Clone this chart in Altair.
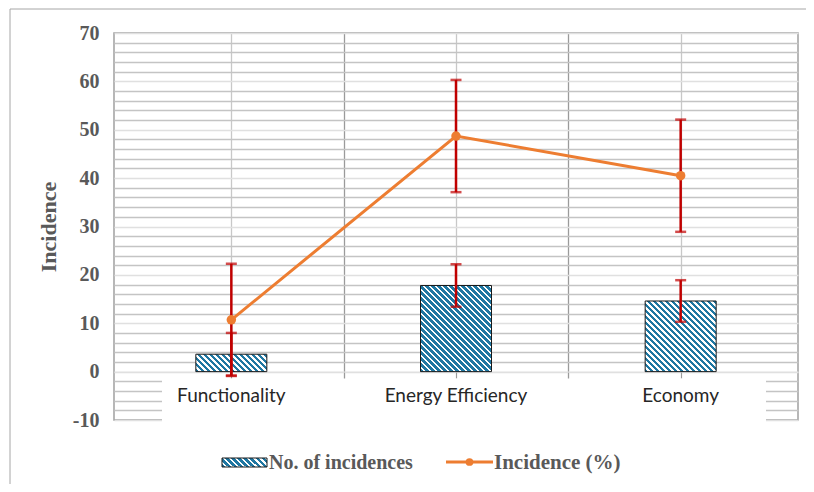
import altair as alt
import pandas as pd

# ---------------- data ----------------
categories = ["Functionality", "Energy Efficiency", "Economy"]
count_values = [3.6, 17.8, 14.6]        # No. of incidences (bars)
count_err = [4.4, 4.4, 4.3]
pct_values = [10.7, 48.7, 40.5]         # Incidence (%) (line)
pct_err = [11.6, 11.6, 11.6]
series_names = ["No. of incidences", "Incidence (%)"]
y_title = "Incidence"

# ---------------- layout / style ----------------
W, H = 684, 387
Y_MIN, Y_MAX = -10, 70
PX = H / (Y_MAX - Y_MIN)
BAR_W = 71
STRIPE = "#1F77A2"
ORANGE = "#ED7D31"
RED = "#C00000"
GRAY_TXT = "#595959"

x_pos = [i + 0.5 for i in range(len(categories))]


def stripe_fill(w, h, period=6.0, frac=0.55):
    """Diagonal ('\\') stripes emulated with a hard-stop linear gradient."""
    gx, gy = 1.0 / h, -1.0 / w
    t = (1.0 / h + 1.0 / w) / (gx * gx + gy * gy)
    x2, y2 = t * gx, 1 + t * gy
    n = (w + h) / period
    stops = []
    k = 0
    while k < n:
        a = min(k / n, 1.0)
        b = min((k + frac) / n, 1.0)
        c = min((k + 1) / n, 1.0)
        stops += [
            {"offset": a, "color": STRIPE},
            {"offset": b, "color": STRIPE},
            {"offset": b, "color": "#ffffff"},
            {"offset": c, "color": "#ffffff"},
        ]
        k += 1
    return {"gradient": "linear", "x1": 0, "y1": 1, "x2": x2, "y2": y2, "stops": stops}


df = pd.DataFrame({
    "cat": categories,
    "x": x_pos,
    "count": count_values,
    "c_lo": [v - e for v, e in zip(count_values, count_err)],
    "c_hi": [v + e for v, e in zip(count_values, count_err)],
    "pct": pct_values,
    "p_lo": [v - e for v, e in zip(pct_values, pct_err)],
    "p_hi": [v + e for v, e in zip(pct_values, pct_err)],
    "zero": [0] * len(categories),
})

x_axis = alt.Axis(
    values=[i * 0.5 for i in range(1, 2 * len(categories))],
    tickCount=100,
    labels=False,
    title=None,
    offset=-(0 - Y_MIN) * PX,
    grid=True,
    gridColor={"condition": {"test": "datum.value % 1 === 0", "value": "#9a9a9a"}, "value": "#c8c8c8"},
    gridWidth=1.3,
    domainColor="#e0e0e0",
    tickColor="#9a9a9a",
    tickSize=6,
)
x_scale = alt.Scale(domain=[0, len(categories)], nice=False, zero=False)
X = alt.X("x:Q", scale=x_scale, axis=x_axis)

y_axis = alt.Axis(
    values=list(range(Y_MIN, Y_MAX + 1, 2)),
    tickCount=100,
    labelExpr="datum.value % 10 === 0 ? '' + datum.value : ''",
    labelOverlap=False,
    labelBound=False,
    labelFlush=False,
    title=y_title,
    titleFont="Liberation Serif",
    titleFontSize=22,
    titleFontWeight="bold",
    titleColor=GRAY_TXT,
    titlePadding=12,
    labelFont="Liberation Serif",
    labelFontSize=20,
    labelFontWeight="bold",
    labelColor=GRAY_TXT,
    labelPadding=15,
    ticks=False,
    domain=False,
    grid=True,
    gridColor={"condition": {"test": "datum.value % 10 === 0", "value": "#e0e0e0"}, "value": "#c4c4c4"},
    gridWidth=1.4,
)
y_scale = alt.Scale(domain=[Y_MIN, Y_MAX], nice=False, zero=False)


def Y(field):
    return alt.Y(field, scale=y_scale, axis=y_axis)


base = alt.Chart(df)

# white box behind the category labels (hides the grid below zero, as in the original)
cover = base.transform_filter(alt.datum.x == x_pos[0]).mark_rect(fill="white").encode(
    x=alt.value(48), x2=alt.value(652),
    y=alt.datum(-1.4), y2=alt.datum(Y_MIN - 0.4),
)

cat_labels = base.mark_text(
    baseline="alphabetic", align="center", dy=30, font="Lato", fontSize=19, color="#262626"
).encode(x=X, y=Y("zero:Q"), text="cat:N")

bars = []
for cat, v in zip(categories, count_values):
    bars.append(
        base.transform_filter(alt.datum.cat == cat).mark_bar(
            size=BAR_W, orient="vertical", fill=stripe_fill(BAR_W, v * PX),
            stroke="#1a1a1a", strokeWidth=1,
        ).encode(x=X, y=Y("count:Q"), y2="zero:Q")
    )

bar_err = base.mark_rule(color=RED, strokeWidth=2.5).encode(x=X, y=Y("c_lo:Q"), y2="c_hi:Q")
bar_cap_lo = base.mark_tick(orient="horizontal", size=11, thickness=2.5, color=RED).encode(x=X, y=Y("c_lo:Q"))
bar_cap_hi = base.mark_tick(orient="horizontal", size=11, thickness=2.5, color=RED).encode(x=X, y=Y("c_hi:Q"))

pct_err_rule = base.mark_rule(color=RED, strokeWidth=2.5).encode(x=X, y=Y("p_lo:Q"), y2="p_hi:Q")
pct_cap_lo = base.mark_tick(orient="horizontal", size=11, thickness=2.5, color=RED).encode(x=X, y=Y("p_lo:Q"))
pct_cap_hi = base.mark_tick(orient="horizontal", size=11, thickness=2.5, color=RED).encode(x=X, y=Y("p_hi:Q"))

line = base.mark_line(color=ORANGE, strokeWidth=3).encode(x=X, y=Y("pct:Q"))
points = base.mark_point(filled=True, size=90, color=ORANGE, opacity=1).encode(x=X, y=Y("pct:Q"))

# ---------------- manual legend ----------------
leg = alt.Chart(pd.DataFrame({"label": series_names}))
leg_swatch = leg.transform_filter(alt.datum.label == series_names[0]).mark_rect(
    fill=stripe_fill(45, 9), stroke="#1a1a1a", strokeWidth=1
).encode(x=alt.value(108), x2=alt.value(153), y=alt.value(425), y2=alt.value(434))
leg_text1 = leg.transform_filter(alt.datum.label == series_names[0]).mark_text(
    align="left", baseline="middle", font="Liberation Serif", fontSize=20,
    fontWeight="bold", color=GRAY_TXT,
).encode(x=alt.value(155), y=alt.value(430), text="label:N")
leg_line = leg.transform_filter(alt.datum.label == series_names[1]).mark_rule(
    color=ORANGE, strokeWidth=3
).encode(x=alt.value(332), x2=alt.value(379), y=alt.value(429))
leg_pt = leg.transform_filter(alt.datum.label == series_names[1]).mark_point(
    filled=True, size=60, color=ORANGE, opacity=1
).encode(x=alt.value(355.5), y=alt.value(429))
leg_text2 = leg.transform_filter(alt.datum.label == series_names[1]).mark_text(
    align="left", baseline="middle", font="Liberation Serif", fontSize=21,
    fontWeight="bold", color=GRAY_TXT,
).encode(x=alt.value(380), y=alt.value(430), text="label:N")

# outer chart frame (left and top edges visible in the original)
frame_left = leg.transform_filter(alt.datum.label == series_names[0]).mark_rule(
    color="#a6a6a6", strokeWidth=1
).encode(x=alt.value(-104), y=alt.value(-24), y2=alt.value(451))
frame_top = leg.transform_filter(alt.datum.label == series_names[0]).mark_rule(
    color="#a6a6a6", strokeWidth=1
).encode(x=alt.value(-104), x2=alt.value(700), y=alt.value(-24))

chart = alt.layer(
    cover, cat_labels, *bars, bar_err, bar_cap_lo, bar_cap_hi,
    pct_err_rule, pct_cap_lo, pct_cap_hi, line, points,
    leg_swatch, leg_text1, leg_line, leg_pt, leg_text2, frame_left, frame_top,
).properties(
    width=W, height=H,
    autosize=alt.AutoSizeParams(type="none"),
    padding={"left": 106, "top": 25, "right": 8, "bottom": 64},
    background="white",
).configure_view(stroke="#a0a0a0", strokeWidth=1.5)

chart.save("out.html", embed_options={"renderer": "svg", "actions": False})
